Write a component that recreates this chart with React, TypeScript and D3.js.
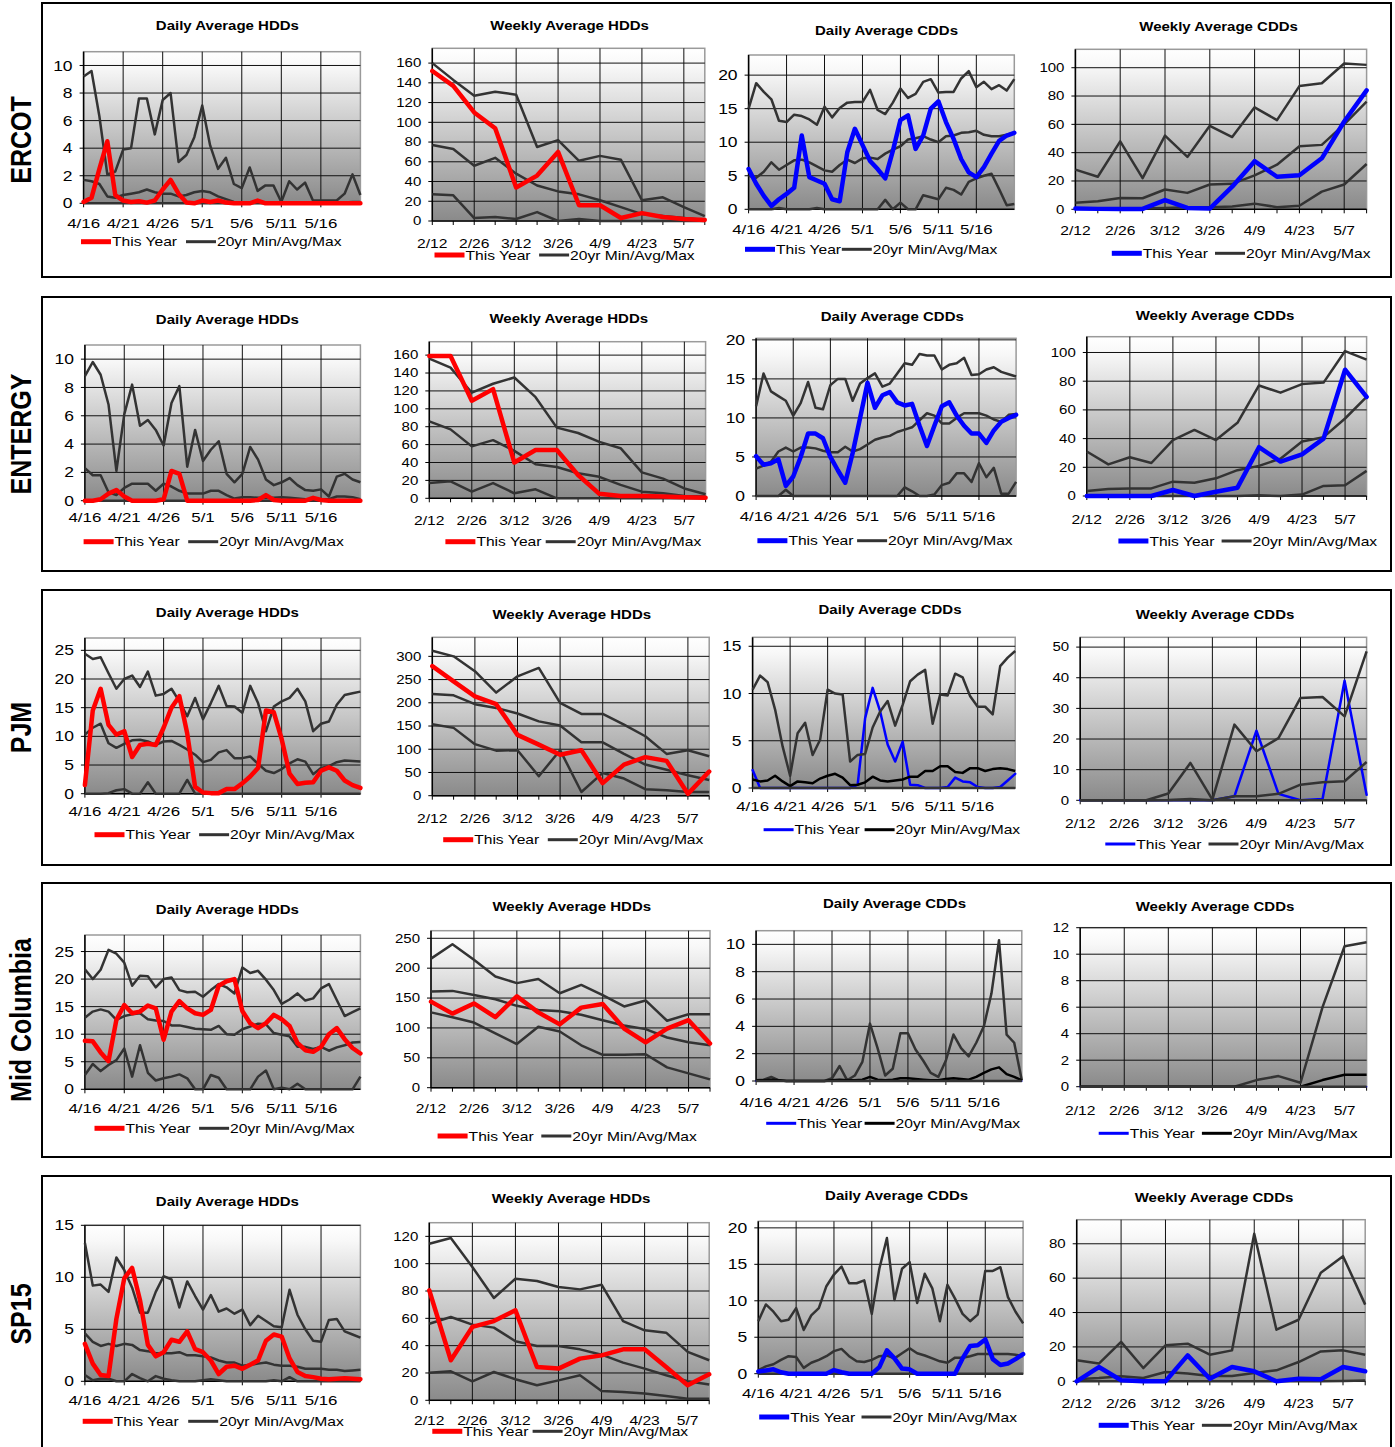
import React from 'react';
import * as d3 from 'd3';

// categories
const DAYS = ['4/16','4/17','4/18','4/19','4/20','4/21','4/22','4/23','4/24','4/25','4/26','4/27','4/28','4/29','4/30',
  '5/1','5/2','5/3','5/4','5/5','5/6','5/7','5/8','5/9','5/10','5/11','5/12','5/13','5/14','5/15','5/16','5/17','5/18','5/19','5/20','5/21'];
const WEEKS = ['2/12','2/19','2/26','3/5','3/12','3/19','3/26','4/2','4/9','4/16','4/23','4/30','5/7','5/14'];
const DAY_TICKS = ['4/16','4/21','4/26','5/1','5/6','5/11','5/16'];
const WEEK_TICKS = ['2/12','2/26','3/12','3/26','4/9','4/23','5/7'];
const REGIONS = ['ERCOT', 'ENTERGY', 'PJM', 'Mid Columbia', 'SP15'];

const ZERO_D = [0,0,0,0,0,0,0,0,0,0, 0,0,0,0,0,0,0,0,0,0, 0,0,0,0,0,0,0,0,0,0, 0,0,0,0,0,0];
const ZERO_W = [0,0,0,0,0,0,0,0,0,0,0,0,0,0];

// ERCOT
const ERCOT_DH_MAX = [9.2,9.6,6.3,2.1,2.3,3.9,4.0,7.6,7.6,5.0, 7.5,8.0,3.0,3.5,4.8,7.1,4.2,2.5,3.3,1.4, 1.1,2.6,0.9,1.3,1.3,0.1,1.6,1.0,1.5,0.2, 0.2,0.2,0.2,0.7,2.1,0.6];
const ERCOT_DH_AVG = [1.7,1.6,1.4,0.5,0.4,0.6,0.7,0.8,1.0,0.8, 0.7,0.7,0.5,0.6,0.8,0.9,0.8,0.5,0.3,0.1, 0.05,0.05,0.05,0.05,0.05,0.05,0.05,0.05,0.05,0.05, 0.05,0.05,0.05,0.05,0.1,0.1];
const ERCOT_DH_TY = [0.1,0.4,2.5,4.5,0.6,0.2,0.1,0.15,0.05,0.2, 1.0,1.7,0.7,0.05,0,0.2,0.1,0.2,0.05,0, 0,0,0.2,0,0,0,0,0,0,0, 0,0,0,0,0,0];
const ERCOT_WH_MAX = [160,143,127,131,128,75,82,61,66,62,21,24,14,5];
const ERCOT_WH_AVG = [77,73,56,64,48,36,30,27,21,14,7,5,3,1];
const ERCOT_WH_MIN = [27,26,3,4,2,9,0,2,0,0,0,0,0,0];
const ERCOT_WH_TY = [152,137,110,94,34,46,70,16,16,3,8,4,2,1];
const ERCOT_DC_MAX = [15.0,18.8,17.5,16.4,13.2,13.0,14.1,13.9,13.4,12.6, 15.3,13.7,15.1,15.9,16.0,16.0,17.8,14.8,14.2,15.9, 18.0,16.6,17.2,19.0,19.4,17.4,17.5,17.5,19.5,20.6, 18.2,19.0,17.9,18.5,17.7,19.4];
const ERCOT_DC_AVG = [5.0,4.7,5.6,7.0,5.9,6.6,7.3,7.4,7.0,6.4, 5.8,5.6,6.6,7.4,6.9,7.6,7.7,7.5,8.3,8.9, 9.4,10.4,10.6,10.9,10.4,10.0,10.9,11.0,11.4,11.5, 11.7,11.1,10.9,10.9,11.1,11.4];
const ERCOT_DC_MIN = [0,0,0,0,0.2,0,0,0,0,0.2, 0,0,0,0,0,0,0,0,1.4,0, 1.0,0,0,2.1,1.8,1.5,3.2,2.9,2.2,4.1, 4.6,5.0,5.3,3.0,0.6,0.8];
const ERCOT_DC_TY = [6.0,3.8,2.0,0.5,1.5,2.3,3.2,11.0,4.8,4.3, 3.8,1.5,1.2,8.5,12.0,9.6,7.2,6.0,4.6,8.7, 13.3,14.0,9.0,11.0,15.0,16.1,13.0,10.5,7.5,5.5, 4.8,6.3,8.3,10.2,11.0,11.4];
const ERCOT_WC_MAX = [28,23,48,22,52,37,59,51,72,63,87,89,103,102];
const ERCOT_WC_AVG = [4.7,5.7,8.0,7.8,14.0,11.6,17.5,18.0,24.0,31.5,44.5,45.5,60,76];
const ERCOT_WC_MIN = [0.5,0.5,0.5,0.5,1.0,1.5,1.5,2.0,4.0,1.5,2.5,12.5,17.5,32];
const ERCOT_WC_TY = [0.5,0.3,0.3,0.3,6.5,1.0,0.5,16,34,23,24,36,62,84];

// ENTERGY
const ENT_DH_MAX = [8.8,9.8,8.9,6.8,2.1,6.1,8.2,5.3,5.7,5.0, 3.9,6.9,8.1,2.4,5.0,2.8,3.6,4.2,1.9,1.3, 1.9,3.8,2.9,1.5,1.1,1.3,1.6,1.1,0.75,0.7, 0.8,0.3,1.7,1.9,1.5,1.3];
const ENT_DH_AVG = [2.3,1.8,1.8,0.6,0.4,0.9,1.2,1.2,1.2,0.7, 1.2,1.0,0.7,0.5,0.5,0.5,0.7,0.7,0.4,0.15, 0.25,0.25,0.2,0.2,0.2,0.25,0.2,0.15,0.1,0.1, 0.1,0.1,0.3,0.3,0.25,0.1];
const ENT_DH_TY = [0,0,0.1,0.5,0.75,0.3,0,0,0,0, 0.1,2.1,1.9,0,0,0,0,0,0,0, 0,0,0.05,0.4,0.05,0,0,0,0,0.2, 0.05,0,0,0,0,0];
const ENT_WH_MAX = [156,146,118,128,135,113,79,73,63,56,29,22,11,4.5];
const ENT_WH_AVG = [86,77,58,65,53,38,35,28,24,15,7.4,5.6,2.6,1.9];
const ENT_WH_MIN = [17,19,7.5,17,5.6,10,0,0,0,0,0,0,0,0];
const ENT_WH_TY = [159,159,109,122,40,54,54,26,5,2.6,2.6,1.9,1.1,0.7];
const ENT_DC_MAX = [11.5,15.7,13.4,12.8,12.2,10.3,11.9,14.6,11.3,11.1, 14.2,15.0,15.0,12.2,14.4,15.1,15.7,14.0,14.4,15.7, 17.0,16.8,18.2,18.0,18.0,16.2,16.8,17.0,17.7,15.5, 15.6,16.2,16.5,15.9,15.6,15.3];
const ENT_DC_AVG = [3.5,3.9,4.4,5.7,6.2,5.7,6.2,6.2,6.1,5.8, 5.6,5.6,6.3,5.7,6.0,6.6,7.2,7.5,7.7,8.2, 8.5,8.8,9.7,10.6,10.3,9.3,9.3,10.0,10.6,10.6, 10.6,10.3,9.8,9.5,10.4,10.5];
const ENT_DC_MIN = [0,0,0,0,0.8,0,0,0,0,0, 0,0,0,0,0,0,0,0,0,0, 1.1,0.6,0,0,0.2,1.4,1.7,2.9,2.9,1.8, 4.2,2.4,3.6,0.3,0.3,1.8];
const ENT_DC_TY = [5.1,4.0,4.2,4.7,1.3,2.5,5.0,8.0,8.0,7.4, 5.0,3.3,1.7,5.5,10.0,14.5,11.3,12.9,13.3,12.0, 11.6,11.8,9.0,6.4,9.0,11.5,12.0,10.3,9.0,8.0, 8.0,6.8,8.4,9.5,10.0,10.4];
const ENT_WC_MAX = [31,22,27,23,39,46,39,51,77,72,78,79,101,95];
const ENT_WC_AVG = [3.5,4.9,5.3,5.3,10,9.3,12.3,18,21,26,38,41,54,69];
const ENT_WC_MIN = [0,0,0,0,0,0,0,0,0.5,0,1,7,7.5,17.5];
const ENT_WC_TY = [0,0,0,0,4.2,0,3,5.8,34,24,29,40,88,69];

// PJM
const PJM_DH_MAX = [24.4,23.5,23.8,21,18.3,20,20.6,18.6,21.3,17.1, 17.4,18.3,16.1,13.5,16.7,13,15.8,18.8,15.3,15.2, 14.1,18.8,15.8,10.9,15.2,16.1,16.7,18.3,16.1,10.9, 12.2,12.6,15.5,17.2,17.5,17.8];
const PJM_DH_AVG = [10.3,11.5,12.2,8.8,8.0,8.7,9.3,9.4,9.1,8.5, 9.1,9.2,8.5,7.7,6.8,5.5,5.9,7.2,7.6,6.2, 6.2,6.5,5.2,4.0,3.6,4.3,5.3,6.0,5.6,3.4, 4.5,4.8,5.5,5.8,5.7,5.6];
const PJM_DH_MIN = [0,0,0,0.1,0.6,0.8,0,0,2.0,0, 0,0,0,2.4,0,0,0,0,0,0, 0,0,0,0,0,0,0,0,0,0, 0,0,0,0,0,0];
const PJM_DH_TY = [1.5,14.5,18.3,12,10.3,10.9,6.4,8.5,8.7,8.5, 11.5,15,17,10.5,1.2,0.2,0.1,0.1,0.8,0.8, 1.8,3,4.5,14.5,14.2,9.5,3.5,1.7,1.9,2.0, 4.0,4.6,4.0,2.3,1.5,1.0];
const PJM_WH_MAX = [312,300,268,222,257,275,200,176,176,153,128,90,98,85];
const PJM_WH_AVG = [219,216,197,189,177,160,151,115,115,90,67,56,44,34];
const PJM_WH_MIN = [154,146,111,97,98,42,98,8,49,37,14,11.5,8,8];
const PJM_WH_TY = [279,246,214,197,131,110,88,98,27,67,83,75,4,52];
const PJM_DC_MAX = [10.4,11.9,11.2,8.3,4.4,1.3,5.8,6.9,3.5,5.1, 10.4,10.0,9.9,2.8,3.5,3.6,6.4,8.1,9.2,6.6, 8.8,11.3,12.0,12.5,6.8,9.9,9.8,12.1,11.7,9.7, 8.6,8.6,7.8,12.9,13.8,14.5];
const PJM_DC_AVG = [0.9,0.7,0.8,1.3,0.7,0.2,0.7,0.6,0.5,1.0, 1.3,1.5,1.1,0.3,0.35,0.6,1.2,0.8,0.7,0.8, 0.9,1.2,1.2,1.8,1.8,2.3,2.3,1.7,1.6,2.1, 2.1,1.8,2.0,2.1,2.0,1.8];
const PJM_DC_TY = [1.9,0,0,0,0,0,0,0,0,0, 0,0,0,0,0.35,7.4,10.6,8.1,4.6,2.8, 4.9,0.35,0.3,0,0,0,0.1,1.1,0.7,0.6, 0.1,0,0,0.1,0.8,1.5];
const PJM_WC_MAX = [0,0,0,0,2.2,12.2,0.2,24.7,16,20.3,33.4,33.7,27.4,48.6];
const PJM_WC_AVG = [0,0,0,0,0.1,0.4,0,1.3,1.3,2.1,5.1,5.9,6.2,12.5];
const PJM_WC_TY = [0,0,0,0,0,0,0,1.3,22.7,2.1,0,0.4,39,1.8];

// Mid Columbia
const MIDC_DH_MAX = [21.8,20,21.7,25.3,24.6,23,18.8,20.6,20.5,18.5, 20,20.3,18,17.6,17.7,16.8,18,19.1,18.5,17.4, 22.1,21.1,21.5,19.9,18,15.5,16.3,17.4,16.1,16.5, 18.3,19.1,16.2,13.3,14.0,14.7];
const MIDC_DH_AVG = [13,14.1,14.5,14.1,12.6,13.3,13.6,13.8,12.7,12.5, 12.4,11.6,11.6,11.3,11.0,10.9,10.8,11.5,10.0,9.9, 10.9,11.4,11.9,11.8,10.2,9.9,9.6,7.7,7.7,7.3, 7.7,7.0,7.6,8.0,8.5,8.6];
const MIDC_DH_MIN = [2.6,4.6,3.3,4.4,5.3,7.4,2.3,8.0,3.0,1.6, 2.0,2.3,2.7,2.0,0,0,2.6,2.1,0,0, 0,0,2.3,3.4,0,0.3,0,1.0,0,0, 0,0,0,0,0,2.3];
const MIDC_DH_TY = [8.8,8.7,6.7,5.1,12.6,15.3,13.8,14.1,15.2,14.7, 9.0,14.1,16.0,14.7,13.8,13.5,14.4,18.8,19.6,20.0, 14.2,12.0,11.1,12.0,13.5,12.7,11.5,8.4,7.1,6.8, 7.7,10.0,11.1,9.1,7.5,6.5];
const MIDC_WH_MAX = [216,240,214,186,175,182,158,172,155,136,146,112,123,123];
const MIDC_WH_AVG = [161,162,155,148,137,130,128,122,113,104,98,84,76,71];
const MIDC_WH_MIN = [126,118,109,91,73,102,94,71,55,55,56,34,24,14];
const MIDC_WH_TY = [144,124,141,118,153,126,106,134,140,99,76,99,113,74];
const MIDC_DC_MAX = [0.05,0.1,0.3,0.05,0,0,0,0,0,0, 0.2,1.1,0.05,0.4,1.4,4.2,2.4,0.4,0.9,3.5, 3.5,2.3,1.5,0.6,0.3,1.5,3.4,2.4,1.8,2.8, 4.0,6.4,10.3,3.4,2.8,0.05];
const MIDC_DC_AVG = [0.05,0.05,0.1,0.05,0,0,0,0,0,0, 0.05,0.1,0.05,0.05,0.1,0.3,0.1,0.05,0.1,0.2, 0.2,0.15,0.1,0.05,0.05,0.15,0.2,0.15,0.1,0.3, 0.6,0.85,1.0,0.5,0.3,0.05];
const MIDC_WC_MAX = [0,0,0,0,0,0,0,0,0.5,0.8,0.3,6,10.6,10.9];
const MIDC_WC_AVG = [0,0,0,0,0,0,0,0,0,0,0,0.5,0.9,0.9];

// SP15
const SP15_DH_MAX = [13.3,9.2,9.3,8.6,11.9,10.7,9.0,6.6,6.6,8.6, 10.1,9.8,7.1,9.6,8.2,6.9,8.3,6.7,7.0,6.5, 6.9,5.4,6.3,5.8,5.3,5.2,8.8,6.4,5.0,3.9, 3.8,5.9,6.0,4.8,4.5,4.2];
const SP15_DH_AVG = [4.6,3.8,3.4,3.6,3.4,3.6,3.5,3.0,2.9,2.7, 2.7,2.7,2.8,2.5,2.5,2.4,2.3,2.0,1.8,1.8, 1.5,1.6,1.7,1.8,1.6,1.5,1.5,1.4,1.2,1.2, 1.2,1.1,1.1,1.0,1.05,1.1];
const SP15_DH_MIN = [0.6,0.1,0.25,0.25,0,0,0.7,0.3,0,0.5, 0.25,0.1,0,0,0,0.1,0.2,0.1,0,0, 0,0,0,0,0.1,0,0.4,0,0,0, 0,0,0,0,0,0];
const SP15_DH_TY = [3.6,1.7,0.6,0.5,6.0,9.9,10.9,7.8,3.5,2.4, 2.8,4.0,3.8,4.8,3.1,2.8,2.0,0.7,1.4,1.5, 1.2,1.6,2.0,3.9,4.5,4.3,2.2,0.9,0.5,0.4, 0.25,0.2,0.25,0.3,0.25,0.2];
const SP15_WH_MAX = [114.6,118.8,97.6,74.9,89,87.3,82.9,81.2,84.6,58,51.2,49.5,35.4,29.3];
const SP15_WH_AVG = [56,61,55.4,53.2,43.2,39.8,39.8,37.3,33.4,27.6,23.2,18.3,13.9,11.5];
const SP15_WH_MIN = [20.2,21.2,13.9,20.7,15.4,11,14.6,18.3,6.8,6.1,4.9,3.2,1.2,1.2];
const SP15_WH_TY = [80.5,29.3,53.7,58,65.9,24.4,23.2,30.5,32.9,37.3,37.3,24.4,11,19];
const SP15_DC_MAX = [7.2,9.5,8.5,7.2,7.4,9.0,6.0,8.0,9.0,12.0, 13.6,14.7,12.4,12.4,12.8,8.2,14.4,18.6,10.1,14.4, 15.3,9.7,13.7,11.7,7.2,12.2,10.3,8.2,7.2,8.1, 14.1,14.1,14.6,10.5,8.5,6.9];
const SP15_DC_AVG = [0.5,1.0,1.3,1.9,2.4,2.3,0.8,1.5,1.9,2.4, 3.1,3.4,2.4,1.7,1.6,1.9,2.4,2.5,2.1,2.8, 3.5,2.8,2.5,2.1,1.7,1.5,2.2,2.2,2.4,2.7, 2.7,2.7,2.7,2.7,2.6,2.4];
const SP15_DC_TY = [0.3,0.45,0.6,0.2,0,0,0,0,0,0, 0.5,0.2,0,0,0,0,0.9,3.2,2.1,0.7, 0.6,0,0,0,0,0,0,2.1,3.8,3.9, 4.7,2.0,1.2,1.4,2.0,2.7];
const SP15_WC_MAX = [12.2,10.3,22.9,7.7,20.9,21.9,15.5,18,85.8,30,35.8,63.1,72.8,44.6];
const SP15_WC_AVG = [1.2,1.9,2.9,1.9,5.4,4.5,3.1,3.1,4.8,6.4,11.2,17.4,18,15.5];
const SP15_WC_MIN = [0,0,0,0,0,0,0,0,0,0,0,0,0.2,0.5];
const SP15_WC_TY = [0,8.3,0.6,0,0,15.1,1.5,8.3,5.8,0,1.5,1.2,8.3,5.8];

const RED = '#ff0000';
const BLUE = '#0000ff';
const GREY = '#333333';
const FONT = '"Liberation Sans", Arial, Helvetica, sans-serif';
const SX = 1.25;

const HDD_D = 'Daily Average HDDs', HDD_W = 'Weekly Average HDDs', CDD_D = 'Daily Average CDDs', CDD_W = 'Weekly Average CDDs';

const ROW_TOPS = [3, 297, 590, 883, 1176];
const ROW_BOTTOMS = [277, 571, 865, 1157, 1452];

type P = {
  kind: 'D' | 'W'; title: string; cur: number[]; mn: number[]; av: number[]; mx: number[];
  hot: string; thin?: number; avgBlack?: boolean; legBlack?: boolean;
  l: number; r: number; t: number; b: number; ymax: number; step: number;
  tcx: number; tcy: number; xl: number; lx1: number; lx2: number; ly: number;
};

const PANELS: P[] = [
  // ERCOT
  { kind: 'D', title: HDD_D, cur: ERCOT_DH_TY, mn: ZERO_D, av: ERCOT_DH_AVG, mx: ERCOT_DH_MAX, hot: RED,
    l: 83.6, r: 360.4, t: 51.7, b: 203.3, ymax: 11, step: 2, tcx: 227.4, tcy: 26, xl: 222.7, lx1: 81, lx2: 186, ly: 241.7 },
  { kind: 'W', title: HDD_W, cur: ERCOT_WH_TY, mn: ERCOT_WH_MIN, av: ERCOT_WH_AVG, mx: ERCOT_WH_MAX, hot: RED,
    l: 432.3, r: 704.8, t: 48.3, b: 221, ymax: 175, step: 20, tcx: 569.6, tcy: 26, xl: 243.3, lx1: 434.5, lx2: 539.1, ly: 255 },
  { kind: 'D', title: CDD_D, cur: ERCOT_DC_TY, mn: ERCOT_DC_MIN, av: ERCOT_DC_AVG, mx: ERCOT_DC_MAX, hot: BLUE,
    l: 748.6, r: 1014.3, t: 55, b: 209.3, ymax: 23, step: 5, tcx: 886.5, tcy: 30.7, xl: 229.3, lx1: 745, lx2: 841.8, ly: 249.3 },
  { kind: 'W', title: CDD_W, cur: ERCOT_WC_TY, mn: ERCOT_WC_MIN, av: ERCOT_WC_AVG, mx: ERCOT_WC_MAX, hot: BLUE,
    l: 1075.4, r: 1366.6, t: 49.3, b: 209.3, ymax: 113, step: 20, tcx: 1218.6, tcy: 26.7, xl: 230, lx1: 1111.8, lx2: 1215, ly: 253.3 },
  // ENTERGY
  { kind: 'D', title: HDD_D, cur: ENT_DH_TY, mn: ZERO_D, av: ENT_DH_AVG, mx: ENT_DH_MAX, hot: RED,
    l: 84.9, r: 360.4, t: 345, b: 500.7, ymax: 11, step: 2, tcx: 227.4, tcy: 320, xl: 517.3, lx1: 83.6, lx2: 188.2, ly: 541.7 },
  { kind: 'W', title: HDD_W, cur: ENT_WH_TY, mn: ENT_WH_MIN, av: ENT_WH_AVG, mx: ENT_WH_MAX, hot: RED,
    l: 429.3, r: 705.6, t: 341.7, b: 498.3, ymax: 175, step: 20, tcx: 568.8, tcy: 318.3, xl: 520, lx1: 445.4, lx2: 545.7, ly: 541.7 },
  { kind: 'D', title: CDD_D, cur: ENT_DC_TY, mn: ENT_DC_MIN, av: ENT_DC_AVG, mx: ENT_DC_MAX, hot: BLUE,
    l: 756.1, r: 1016.1, t: 338.3, b: 496, ymax: 20.2, step: 5, tcx: 892.3, tcy: 316.7, xl: 515.7, lx1: 757.4, lx2: 857.1, ly: 540.7 },
  { kind: 'W', title: CDD_W, cur: ENT_WC_TY, mn: ENT_WC_MIN, av: ENT_WC_AVG, mx: ENT_WC_MAX, hot: BLUE,
    l: 1086.8, r: 1366.6, t: 336.7, b: 496, ymax: 111, step: 20, tcx: 1215, tcy: 315.7, xl: 519, lx1: 1118.4, lx2: 1221.6, ly: 541 },
  // PJM
  { kind: 'D', title: HDD_D, cur: PJM_DH_TY, mn: PJM_DH_MIN, av: PJM_DH_AVG, mx: PJM_DH_MAX, hot: RED,
    l: 84.9, r: 360.4, t: 638, b: 793.7, ymax: 27.15, step: 5, tcx: 227.4, tcy: 613, xl: 810.7, lx1: 94.5, lx2: 199.1, ly: 834.7 },
  { kind: 'W', title: HDD_W, cur: PJM_WH_TY, mn: PJM_WH_MIN, av: PJM_WH_AVG, mx: PJM_WH_MAX, hot: RED,
    l: 432.3, r: 709.2, t: 637.3, b: 795.7, ymax: 341, step: 50, tcx: 571.8, tcy: 614.7, xl: 818, lx1: 443.2, lx2: 547.8, ly: 839.7 },
  { kind: 'D', title: CDD_D, cur: PJM_DC_TY, mn: ZERO_D, av: PJM_DC_AVG, mx: PJM_DC_MAX, hot: BLUE, thin: 2.5, avgBlack: true, legBlack: true,
    l: 752.6, r: 1015.2, t: 637.3, b: 788, ymax: 15.95, step: 5, tcx: 890, tcy: 609.7, xl: 806.3, lx1: 763.6, lx2: 864.6, ly: 829.7 },
  { kind: 'W', title: CDD_W, cur: PJM_WC_TY, mn: ZERO_W, av: PJM_WC_AVG, mx: PJM_WC_MAX, hot: BLUE, thin: 2.5,
    l: 1080.2, r: 1366.6, t: 637.3, b: 800.3, ymax: 53.2, step: 10, tcx: 1215, tcy: 614.7, xl: 823, lx1: 1105.3, lx2: 1208.5, ly: 844 },
  // Mid Columbia
  { kind: 'D', title: HDD_D, cur: MIDC_DH_TY, mn: MIDC_DH_MIN, av: MIDC_DH_AVG, mx: MIDC_DH_MAX, hot: RED,
    l: 84.9, r: 360.4, t: 935, b: 1089.3, ymax: 28, step: 5, tcx: 227.4, tcy: 910, xl: 1108.3, lx1: 94.5, lx2: 199.1, ly: 1128.3 },
  { kind: 'W', title: HDD_W, cur: MIDC_WH_TY, mn: MIDC_WH_MIN, av: MIDC_WH_AVG, mx: MIDC_WH_MAX, hot: RED,
    l: 431, r: 710, t: 930.7, b: 1087.7, ymax: 262.7, step: 50, tcx: 571.8, tcy: 906.7, xl: 1108.3, lx1: 437.6, lx2: 541.3, ly: 1136 },
  { kind: 'D', title: CDD_D, cur: ZERO_D, mn: ZERO_D, av: MIDC_DC_AVG, mx: MIDC_DC_MAX, hot: BLUE, thin: 1.5, avgBlack: true, legBlack: true,
    l: 756.1, r: 1021.8, t: 930.7, b: 1081, ymax: 11, step: 2, tcx: 894.5, tcy: 904, xl: 1101.7, lx1: 766.2, lx2: 864.6, ly: 1123.3 },
  { kind: 'W', title: CDD_W, cur: ZERO_W, mn: ZERO_W, av: MIDC_WC_AVG, mx: MIDC_WC_MAX, hot: BLUE, thin: 1.5, avgBlack: true, legBlack: true,
    l: 1080.2, r: 1366.6, t: 927.7, b: 1086.7, ymax: 12, step: 2, tcx: 1215, tcy: 906.7, xl: 1110, lx1: 1098.7, lx2: 1201.9, ly: 1133.3 },
  // SP15
  { kind: 'D', title: HDD_D, cur: SP15_DH_TY, mn: SP15_DH_MIN, av: SP15_DH_AVG, mx: SP15_DH_MAX, hot: RED,
    l: 84.9, r: 360.4, t: 1225.3, b: 1381.3, ymax: 15, step: 5, tcx: 227.4, tcy: 1202, xl: 1400.3, lx1: 82.7, lx2: 188.2, ly: 1421.3 },
  { kind: 'W', title: HDD_W, cur: SP15_WH_TY, mn: SP15_WH_MIN, av: SP15_WH_AVG, mx: SP15_WH_MAX, hot: RED,
    l: 429.3, r: 709.2, t: 1222.7, b: 1400.3, ymax: 130, step: 20, tcx: 571, tcy: 1198.7, xl: 1420.3, lx1: 432.3, lx2: 532.6, ly: 1431.3 },
  { kind: 'D', title: CDD_D, cur: SP15_DC_TY, mn: ZERO_D, av: SP15_DC_AVG, mx: SP15_DC_MAX, hot: BLUE,
    l: 758.3, r: 1023.1, t: 1221.3, b: 1373.7, ymax: 20.9, step: 5, tcx: 896.6, tcy: 1195.3, xl: 1392.7, lx1: 759.2, lx2: 861.5, ly: 1417 },
  { kind: 'W', title: CDD_W, cur: SP15_WC_TY, mn: SP15_WC_MIN, av: SP15_WC_AVG, mx: SP15_WC_MAX, hot: BLUE,
    l: 1076.7, r: 1365.2, t: 1219.7, b: 1381.3, ymax: 94, step: 20, tcx: 1214, tcy: 1198, xl: 1403, lx1: 1098.7, lx2: 1201.9, ly: 1425.3 },
];

function Txt({ x, y, size, anchor = 'start', bold = false, children }: any) {
  return (
    <text transform={`translate(${x},${y}) scale(${SX},1)`} fontSize={size} fontFamily={FONT}
      fontWeight={bold ? 700 : 400} textAnchor={anchor} fill="#000">{children}</text>
  );
}

function Panel({ p }: { p: P }) {
  const cats = p.kind === 'D' ? DAYS : WEEKS;
  const labels = p.kind === 'D' ? DAY_TICKS : WEEK_TICKS;
  const x = d3.scalePoint<string>().domain(cats).range([p.l, p.r]);
  const y = d3.scaleLinear().domain([0, p.ymax]).range([p.b, p.t]);
  const yTicks = d3.range(0, p.ymax + 1e-6, p.step);
  const line = d3.line<number>().x((_, i) => x(cats[i]) as number).y((d) => y(d));
  const yFont = p.kind === 'D' ? 14 : 12;
  const xFont = p.kind === 'D' ? 13.5 : 12.5;
  const curW = p.thin || 4.5;
  const legCol = p.legBlack ? '#000' : GREY;
  const avgCol = p.avgBlack ? '#000' : GREY;
  const xTickCats = p.kind === 'W' ? cats : labels;

  const curPath = (
    <path d={line(p.cur) || ''} fill="none" stroke={p.hot} strokeWidth={curW} strokeLinejoin="round" strokeLinecap="round" />
  );

  return (
    <g>
      <rect x={p.l} y={p.t} width={p.r - p.l} height={p.b - p.t} fill="url(#plotBg)" stroke="#9a9a9a" strokeWidth={1.5} />
      {yTicks.filter((v) => v > 0).map((v) => (
        <line key={'gy' + v} x1={p.l} x2={p.r} y1={y(v)} y2={y(v)} stroke="#111" strokeWidth={1} />
      ))}
      {labels.slice(1).map((c) => (
        <line key={'gx' + c} x1={x(c)} x2={x(c)} y1={p.t} y2={p.b} stroke="#111" strokeWidth={1} />
      ))}
      {/* axes */}
      <line x1={p.l} x2={p.l} y1={p.t} y2={p.b} stroke="#000" strokeWidth={1.5} />
      <line x1={p.l} x2={p.r} y1={p.b} y2={p.b} stroke="#000" strokeWidth={1.5} />
      {yTicks.map((v) => (
        <g key={'ty' + v}>
          <line x1={p.l - 4} x2={p.l} y1={y(v)} y2={y(v)} stroke="#000" strokeWidth={1} />
          <Txt x={p.l - 11} y={y(v) + yFont * 0.36} size={yFont} anchor="end">{v}</Txt>
        </g>
      ))}
      {xTickCats.map((c) => (
        <line key={'tx' + c} x1={x(c)} x2={x(c)} y1={p.b} y2={p.b + 4} stroke="#000" strokeWidth={1} />
      ))}
      {labels.map((c) => (
        <Txt key={'lx' + c} x={x(c)} y={p.xl + xFont * 0.36} size={xFont} anchor="middle">{c}</Txt>
      ))}
      {/* thin "this year" series sit under the 20yr lines */}
      {p.thin ? curPath : null}
      <path d={line(p.mx) || ''} fill="none" stroke={GREY} strokeWidth={2.5} strokeLinejoin="round" />
      <path d={line(p.av) || ''} fill="none" stroke={avgCol} strokeWidth={2.5} strokeLinejoin="round" />
      <path d={line(p.mn) || ''} fill="none" stroke={GREY} strokeWidth={2.5} strokeLinejoin="round" />
      {p.thin ? null : curPath}
      {/* title */}
      <Txt x={p.tcx} y={p.tcy + 4.3} size={12} anchor="middle" bold>{p.title}</Txt>
      {/* legend */}
      <line x1={p.lx1} x2={p.lx1 + 30} y1={p.ly} y2={p.ly} stroke={p.hot} strokeWidth={p.thin ? 3 : 5} />
      <Txt x={p.lx1 + 31} y={p.ly + 4.6} size={12.5}>This Year</Txt>
      <line x1={p.lx2} x2={p.lx2 + 30} y1={p.ly} y2={p.ly} stroke={legCol} strokeWidth={3} />
      <Txt x={p.lx2 + 31} y={p.ly + 4.6} size={12.5}>20yr Min/Avg/Max</Txt>
    </g>
  );
}

export default function App() {
  return (
    <svg width={1395} height={1447} style={{ position: 'absolute', left: 0, top: 0, display: 'block', background: '#fff' }}>
      <defs>
        <linearGradient id="plotBg" x1="0" y1="0" x2="0" y2="1">
          <stop offset="0%" stopColor="#ffffff" />
          <stop offset="10%" stopColor="#f8f8f8" />
          <stop offset="100%" stopColor="#8a8a8a" />
        </linearGradient>
      </defs>
      <rect x={0} y={0} width={1395} height={1447} fill="#fff" />
      {REGIONS.map((name, i) => (
        <g key={name}>
          <rect x={42} y={ROW_TOPS[i]} width={1349} height={ROW_BOTTOMS[i] - ROW_TOPS[i]} fill="none" stroke="#000" strokeWidth={2} />
          <text transform={`translate(31,${(ROW_TOPS[i] + ROW_BOTTOMS[i]) / 2}) scale(1.2,1) rotate(-90)`}
            fontSize={25} fontWeight={700} fontFamily={FONT} textAnchor="middle">{name}</text>
        </g>
      ))}
      {PANELS.map((p, i) => <Panel key={i} p={p} />)}
    </svg>
  );
}
